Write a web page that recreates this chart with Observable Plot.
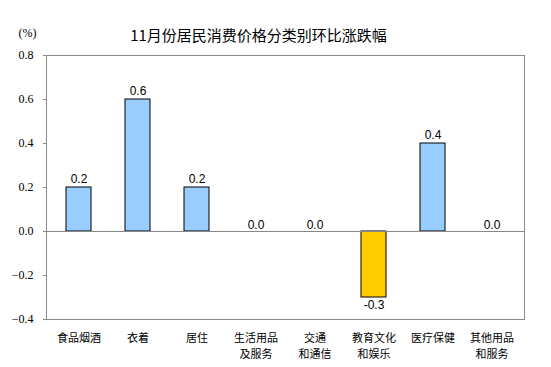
<!DOCTYPE html>
<html>
<head>
<meta charset="utf-8">
<script src="https://cdn.jsdelivr.net/npm/d3@7"></script>
<script src="https://cdn.jsdelivr.net/npm/@observablehq/plot@0.6"></script>
<style>
  html, body { margin: 0; padding: 0; background: #fff; }
</style>
</head>
<body>
<div id="chart"></div>
<script>
const categories = ["食品烟酒", "衣着", "居住", "生活用品\n及服务", "交通\n和通信", "教育文化\n和娱乐", "医疗保健", "其他用品\n和服务"];
const values = [0.2, 0.6, 0.2, 0.0, 0.0, -0.3, 0.4, 0.0];
const yTicks = [-0.4, -0.2, 0.0, 0.2, 0.4, 0.6, 0.8];
const title = "11月份居民消费价格分类别环比涨跌幅";
const unit = "(%)";

const data = categories.map((c, i) => ({ cat: c, v: values[i] }));
const labelFont = "'Liberation Sans', Arial, sans-serif";

const chart = Plot.plot({
  width: 551,
  height: 367,
  marginLeft: 46,
  marginRight: 27,
  marginTop: 55,
  marginBottom: 48,
  style: { fontFamily: "'Noto Sans CJK SC', sans-serif", background: "#fff" },
  x: { domain: categories, paddingInner: 0.58, paddingOuter: 0.29, label: null },
  y: { domain: [-0.4, 0.8], label: null },
  marks: [
    Plot.barY(data, {
      x: "cat", y: "v",
      fill: d => d.v < 0 ? "#FFCC00" : "#99CCFF",
      stroke: "#000", strokeWidth: 1
    }),
    Plot.ruleY([0], { stroke: "#888", strokeWidth: 1 }),
    Plot.frame({ stroke: "#888", strokeWidth: 1 }),
    Plot.axisY({
      ticks: yTicks, tickFormat: d3.format(".1f"), tickSize: 3, tickPadding: 10,
      fontSize: 12, fontFamily: "'Liberation Serif', serif", stroke: "#888", fill: "#000"
    }),
    Plot.axisX({
      tickSize: 0, tickPadding: 12, fontSize: 11, lineHeight: 1.4,
      fill: "#000"
    }),
    Plot.text(data.filter(d => d.v > 0), {
      x: "cat", y: "v", text: d => d.v.toFixed(1),
      lineAnchor: "middle", dy: -8, fontSize: 12,
      fontFamily: labelFont, fill: "#000"
    }),
    Plot.text(data.filter(d => d.v === 0), {
      x: "cat", y: "v", text: d => d.v.toFixed(1),
      lineAnchor: "middle", dy: -6, fontSize: 12,
      fontFamily: labelFont, fill: "#000"
    }),
    Plot.text(data.filter(d => d.v < 0), {
      x: "cat", y: "v", text: d => d.v.toFixed(1),
      lineAnchor: "middle", dy: 8, fontSize: 12,
      fontFamily: labelFont, fill: "#000"
    }),
    Plot.text([title], {
      frameAnchor: "top", text: d => d, dx: -27, dy: -25,
      fontSize: 15, fill: "#000"
    }),
    Plot.text([unit], {
      frameAnchor: "top-left", text: d => d, dx: -28, dy: -27,
      fontSize: 12, fontFamily: "'Liberation Serif', serif", fill: "#000"
    })
  ]
});
document.getElementById("chart").appendChild(chart);
</script>
</body>
</html>
